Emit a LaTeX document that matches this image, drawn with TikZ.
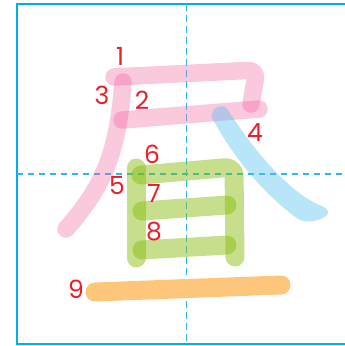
\documentclass[tikz,border=0pt]{standalone}
\usepackage{fontspec}
\newfontfamily\numfont{Poppins}
\usetikzlibrary{positioning}
\definecolor{gridblue}{RGB}{0,174,239}
\definecolor{dashblue}{RGB}{45,185,240}
\definecolor{inkpink}{RGB}{240,90,155}
\definecolor{inkblue}{RGB}{80,190,240}
\definecolor{inkgreen}{RGB}{130,185,0}
\definecolor{inkorange}{RGB}{253,198,122}
\definecolor{numred}{RGB}{232,30,40}
\tikzset{
  frameline/.style={draw=gridblue,line width=2pt},
  guideline/.style={draw=dashblue,line width=1.3pt,dash pattern=on 6.5pt off 4.5pt},
  basestroke/.style={line cap=round,line join=round,rounded corners=9pt},
  pinkstroke/.style={basestroke,draw=inkpink,draw opacity=0.33,line width=17.5pt},
  greenstroke/.style={basestroke,draw=inkgreen,draw opacity=0.45,line width=19pt},
  orangestroke/.style={basestroke,draw=inkorange,line width=19pt},
  bluestroke/.style={fill=inkblue,fill opacity=0.4},
  numlabel/.style={text=numred,font=\numfont\fontsize{25}{25}\selectfont,inner sep=0pt}
}

\begin{document}
\begin{tikzpicture}[x=1pt,y=-1pt]
  %% Frame and guides
  \useasboundingbox (0,0) rectangle (345,346);
  \clip (0,0) rectangle (345,346);
  \draw[frameline] (16.8,4.3) rectangle (357,343.8);
  \draw[guideline] (186.8,4.3) -- (186.8,343.8);
  \draw[guideline] (16.8,174) -- (357,174);

  %% Upper part (pink)
  \draw[pinkstroke] (114,77) -- (257,70) -- (251,104);
  \draw[pinkstroke] (122,120) -- (259,109);
  \draw[pinkstroke] (123,82) .. controls (118,150) and (105,185) .. (66,229);

  %% Falling stroke (blue)
  \fill[bluestroke] (212,118) .. controls (235,160) and (265,195) .. (298,219)
    .. controls (305,223) and (318,222) .. (326,216)
    .. controls (330,213) and (328,209) .. (322,206)
    .. controls (295,196) and (260,160) .. (228,110)
    .. controls (224,103) and (210,106) .. (212,118) -- cycle;

  %% Sun part (green)
  \draw[greenstroke] (136,168) -- (136,258);
  \draw[greenstroke] (141,175) -- (234,167) -- (235,257);
  \draw[greenstroke] (142,211) -- (227,205);
  \draw[greenstroke] (142,250) -- (227,245);

  %% Base stroke (orange)
  \draw[orangestroke] (95,292) -- (281,285);

  %% Stroke numbers
  \node[numlabel] (n1) at (120,56) {1};
  \node[numlabel] (n2) at (142,100) {2};
  \node[numlabel] (n3) at (102,95) {3};
  \node[numlabel] (n4) at (255,133) {4};
  \node[numlabel] (n5) at (117,185) {5};
  \node[numlabel] (n6) at (152,154) {6};
  \node[numlabel] (n7) at (154,193) {7};
  \node[numlabel] (n8) at (154,232) {8};
  \node[numlabel] (n9) at (76,289) {9};
\end{tikzpicture}
\end{document}
